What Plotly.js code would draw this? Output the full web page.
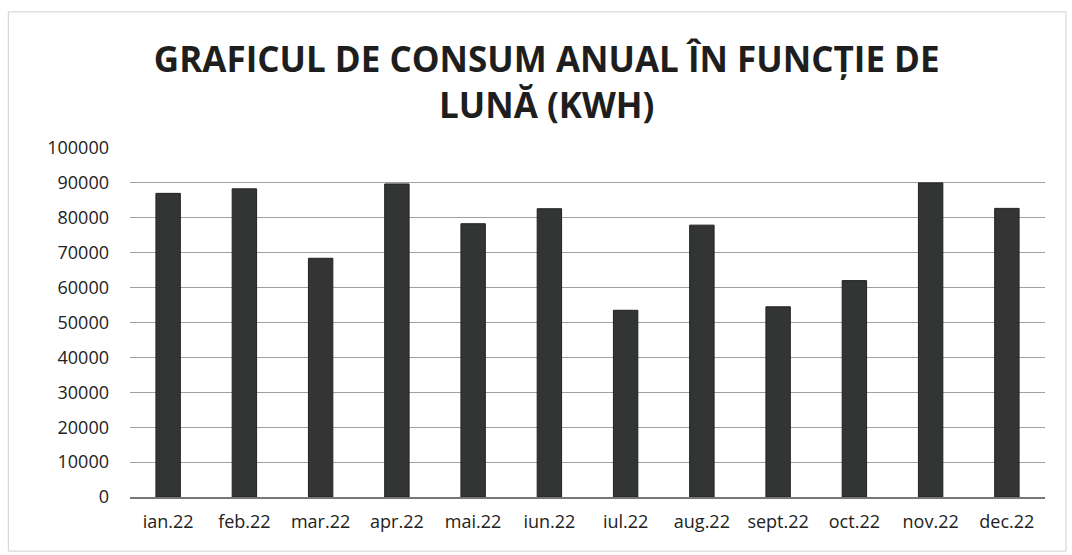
<!DOCTYPE html>
<html>
<head>
<meta charset="utf-8">
<script src="https://cdn.plot.ly/plotly-3.0.1.min.js"></script>
<style>html,body{margin:0;padding:0;background:#fff;}#chart{width:1072px;height:555px;}</style>
</head>
<body>
<div id="chart"></div>
<script>
const months = ["ian.22","feb.22","mar.22","apr.22","mai.22","iun.22","iul.22","aug.22","sept.22","oct.22","nov.22","dec.22"];
const consumption = [87000, 88300, 68400, 89700, 78300, 82600, 53500, 77900, 54500, 62000, 90000, 82700];
const yTicks = [0,10000,20000,30000,40000,50000,60000,70000,80000,90000,100000];
const titleText = "GRAFICUL DE CONSUM ANUAL ÎN FUNCȚIE DE<br>LUNĂ (KWH)";

const trace = {
  type: "bar",
  x: months,
  y: consumption,
  marker: {color: "#333535", line: {color: "#222", width: 1}},
  hoverinfo: "x+y"
};

const layout = {
  width: 1072, height: 555,
  paper_bgcolor: "#fff", plot_bgcolor: "#fff",
  margin: {l: 130, r: 27, t: 148, b: 58},
  bargap: 0.68,
  showlegend: false,
  title: {
    text: titleText,
    font: {family: "Open Sans", size: 35, color: "#1e1e1e", weight: "bold"},
    x: 0.51, xanchor: "center", y: 0.87, yanchor: "top"
  },
  xaxis: {
    type: "category",
    tickfont: {family: "Open Sans", size: 18, color: "#222"},
    showline: true, linecolor: "#777", linewidth: 1.5,
    ticks: "", ticklabelstandoff: 8
  },
  yaxis: {
    range: [0, 100000],
    tickvals: yTicks,
    ticktext: yTicks.map(String),
    tickfont: {family: "Open Sans", size: 18, color: "#222"},
    showgrid: true, gridcolor: "#a0a0a0", gridwidth: 1,
    zeroline: false, showline: false, ticks: "", ticklabelstandoff: 20
  },
  shapes: [{
    type: "rect", xref: "paper", yref: "paper",
    x0: -0.133, x1: 1.023, y0: -0.155, y1: 1.39,
    line: {color: "#d0d0d0", width: 1}
  }],
  font: {family: "Open Sans"}
};

Plotly.newPlot("chart", [trace], layout, {displayModeBar: false, staticPlot: true});
</script>
</body>
</html>
